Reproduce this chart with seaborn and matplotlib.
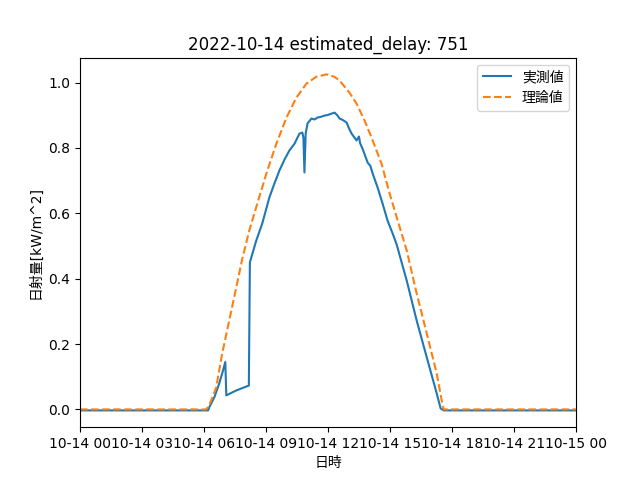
import pandas as pd
import numpy as np
import matplotlib
matplotlib.use("Agg")
import matplotlib.pyplot as plt
import matplotlib.dates as mdates
import seaborn as sns

plt.rcParams['font.family'] = ['DejaVu Sans', 'Noto Sans CJK JP']

day = pd.Timestamp("2022-10-14 00:00")

# measured irradiance (hours from midnight, kW/m^2)
measured_hours = [0.0, 6.2, 6.25, 6.5, 6.74, 6.88, 7.03, 7.08, 7.56, 8.17, 8.22,
                  8.53, 8.82, 9.16, 9.4, 9.65, 9.9, 10.13, 10.38, 10.62, 10.76, 10.81,
                  10.86, 10.92, 11.01, 11.1, 11.20, 11.35, 11.49, 11.65, 11.83, 12.0,
                  12.17, 12.32, 12.45, 12.56, 12.7, 12.9, 13.0, 13.14, 13.38, 13.5,
                  13.55, 13.67, 13.92, 14.05, 14.16, 14.40, 14.64, 14.88, 15.13, 15.32,
                  15.81, 16.29, 16.78, 17.26, 17.45, 17.6, 24.0]
measured_vals = [-0.003, -0.003, 0.006, 0.037, 0.08, 0.11, 0.145, 0.043, 0.058, 0.073, 0.45,
                 0.517, 0.569, 0.648, 0.69, 0.731, 0.765, 0.792, 0.813, 0.844, 0.847, 0.832,
                 0.725, 0.844, 0.875, 0.882, 0.890, 0.887, 0.893, 0.895, 0.899, 0.901,
                 0.905, 0.908, 0.900, 0.890, 0.886, 0.878, 0.862, 0.844, 0.823, 0.835,
                 0.815, 0.798, 0.755, 0.745, 0.722, 0.679, 0.630, 0.578, 0.538, 0.505,
                 0.394, 0.272, 0.159, 0.049, 0.003, -0.003, -0.003]

# theoretical irradiance
theory_hours = [0.0, 6.1, 6.25, 6.59, 6.88, 7.22, 7.56, 7.85, 8.19, 8.58, 9.02,
                9.50, 9.99, 10.47, 10.96, 11.44, 11.93, 12.3, 12.56, 13.04, 13.38,
                13.77, 14.16, 14.59, 14.98, 15.37, 15.81, 16.29, 16.78, 17.26, 17.5,
                17.6, 24.0]
theory_vals = [0.0, 0.0, 0.012, 0.067, 0.171, 0.272, 0.373, 0.46, 0.547, 0.630, 0.722,
               0.813, 0.893, 0.954, 0.997, 1.018, 1.025, 1.018, 1.006, 0.969, 0.936,
               0.884, 0.823, 0.752, 0.661, 0.578, 0.486, 0.355, 0.232, 0.110, 0.028,
               0.0, 0.0]

measured = pd.DataFrame({
    "time": day + pd.to_timedelta(measured_hours, unit="h"),
    "value": measured_vals,
})
theory = pd.DataFrame({
    "time": day + pd.to_timedelta(theory_hours, unit="h"),
    "value": theory_vals,
})

fig, ax = plt.subplots(figsize=(6.4, 4.8), dpi=100)
sns.lineplot(data=measured, x="time", y="value", ax=ax, color="C0", label="実測値")
sns.lineplot(data=theory, x="time", y="value", ax=ax, color="C1", linestyle="--", label="理論値")

ax.set_xlim(day, day + pd.Timedelta(hours=24))
ax.xaxis.set_major_locator(mdates.HourLocator(interval=3))
ax.xaxis.set_major_formatter(mdates.DateFormatter("%m-%d %H"))
ax.set_xlabel("日時")
ax.set_ylabel("日射量[kW/m^2]")
ax.set_title("2022-10-14 estimated_delay: 751")
ax.legend(loc="upper right")

plt.savefig("out.png")
